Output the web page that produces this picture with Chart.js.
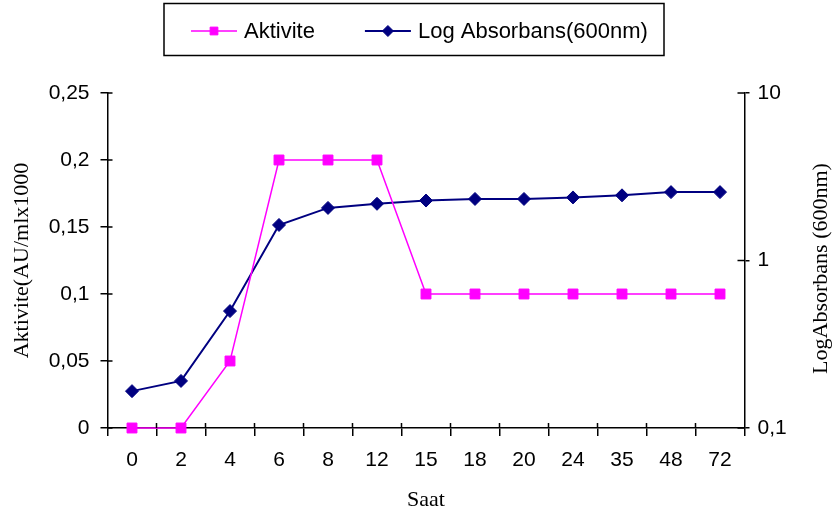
<!DOCTYPE html>
<html>
<head>
<meta charset="utf-8">
<script src="https://cdn.jsdelivr.net/npm/chart.js@4.4.1/dist/chart.umd.min.js"></script>
<style>
    html, body { margin: 0; padding: 0; background: #fff; }
    canvas { display: block; }
</style>
</head>
<body>
<canvas id="grafik" width="834" height="516"></canvas>
<script>
// Veriler
const saat = ['0', '2', '4', '6', '8', '12', '15', '18', '20', '24', '35', '48', '72'];
const aktivite = [0, 0, 0.05, 0.2, 0.2, 0.2, 0.1, 0.1, 0.1, 0.1, 0.1, 0.1, 0.1];
const logAbsorbans = [0.166, 0.191, 0.499, 1.63, 2.06, 2.18, 2.28, 2.33, 2.33, 2.38, 2.45, 2.56, 2.56];
const solEksenTikleri = [0, 0.05, 0.1, 0.15, 0.2, 0.25];
const sagEksenTikleri = [0.1, 1, 10];

const SANS = 'Arial, "Liberation Sans", sans-serif';
const SERIF = '"Times New Roman", "Liberation Serif", serif';

Chart.defaults.color = '#000';
Chart.defaults.font.family = SANS;

const virgullu = v => String(v).replace('.', ',');

// Lejant çerçevesi, sağ eksen başlığı ve içe taşan tik çizgileri
const ekCizimler = {
    id: 'ekCizimler',
    afterDraw(chart) {
        const ctx = chart.ctx;
        const alan = chart.chartArea;
        const { x, y, y1 } = chart.scales;
        ctx.save();

        // tiklerin iç kısmı
        ctx.strokeStyle = '#000';
        ctx.lineWidth = 1.5;
        ctx.beginPath();
        y.ticks.forEach(t => {
            const py = y.getPixelForValue(t.value);
            ctx.moveTo(alan.left, py);
            ctx.lineTo(alan.left + 5, py);
        });
        y1.ticks.forEach(t => {
            const py = y1.getPixelForValue(t.value);
            ctx.moveTo(alan.right, py);
            ctx.lineTo(alan.right - 7, py);
        });
        const adim = x.getPixelForValue(1) - x.getPixelForValue(0);
        for (let i = 1; i < saat.length; i++) {
            const px = x.getPixelForValue(i) - adim / 2;
            ctx.moveTo(px, alan.bottom);
            ctx.lineTo(px, alan.bottom - 5);
        }
        ctx.stroke();

        // sağ eksen başlığı (aşağıdan yukarı)
        ctx.save();
        ctx.translate(821, (alan.top + alan.bottom) / 2 + 8);
        ctx.rotate(-Math.PI / 2);
        ctx.font = '22px ' + SERIF;
        ctx.fillStyle = '#000';
        ctx.textAlign = 'center';
        ctx.textBaseline = 'middle';
        ctx.fillText('LogAbsorbans (600nm)', 0, 0);
        ctx.restore();

        // lejant
        ctx.lineWidth = 1.5;
        ctx.strokeStyle = '#000';
        ctx.strokeRect(164, 3.5, 500, 52);
        ctx.font = '22px ' + SANS;
        ctx.textBaseline = 'middle';
        ctx.textAlign = 'left';
        let lx = 191;
        const ly = 31;
        chart.data.datasets.forEach(ds => {
            ctx.strokeStyle = ds.borderColor;
            ctx.lineWidth = ds.borderWidth;
            ctx.beginPath();
            ctx.moveTo(lx, ly);
            ctx.lineTo(lx + 46, ly);
            ctx.stroke();
            ctx.fillStyle = ds.pointBackgroundColor;
            ctx.strokeStyle = ds.pointBorderColor;
            ctx.lineWidth = 1;
            Chart.helpers.drawPoint(ctx, { pointStyle: ds.pointStyle, radius: 5.5, rotation: 0, borderWidth: 1 }, lx + 23, ly);
            ctx.fillStyle = '#000';
            ctx.fillText(ds.label, lx + 53, ly + 1);
            lx += 53 + ctx.measureText(ds.label).width + 50;
        });
        ctx.restore();
    }
};

new Chart(document.getElementById('grafik'), {
    type: 'line',
    data: {
        labels: saat,
        datasets: [
            {
                label: 'Aktivite',
                data: aktivite,
                yAxisID: 'y',
                borderColor: '#ff00ff',
                borderWidth: 1.5,
                pointStyle: 'rect',
                pointRadius: 7,
                pointBackgroundColor: '#ff00ff',
                pointBorderColor: '#ff00ff',
                pointBorderWidth: 1,
                tension: 0,
                fill: false,
                clip: false
            },
            {
                label: 'Log Absorbans(600nm)',
                data: logAbsorbans,
                yAxisID: 'y1',
                borderColor: '#000080',
                borderWidth: 2,
                pointStyle: 'rectRot',
                pointRadius: 6.5,
                pointBackgroundColor: '#000080',
                pointBorderColor: '#000080',
                pointBorderWidth: 1,
                tension: 0,
                fill: false,
                clip: false
            }
        ]
    },
    options: {
        responsive: false,
        animation: false,
        devicePixelRatio: 1,
        layout: { padding: { top: 93, left: 0, right: 0, bottom: 0 } },
        plugins: {
            legend: { display: false },
            tooltip: { enabled: false }
        },
        scales: {
            x: {
                offset: true,
                afterFit: s => { s.height = 88; },
                grid: { offset: true, drawOnChartArea: false, drawTicks: true, tickLength: 8, color: '#000', lineWidth: 1.5 },
                border: { display: true, color: '#000', width: 1.5 },
                ticks: { font: { size: 21 }, padding: 12, maxRotation: 0, autoSkip: false },
                title: { display: true, text: 'Saat', font: { family: SERIF, size: 22 }, padding: { top: 0, bottom: 3 } }
            },
            y: {
                position: 'left',
                min: 0,
                max: 0.25,
                afterFit: s => { s.width = 107.5; },
                afterBuildTicks: s => { s.ticks = solEksenTikleri.map(v => ({ value: v })); },
                grid: { drawOnChartArea: false, drawTicks: true, tickLength: 7, color: '#000', lineWidth: 1.5 },
                border: { display: true, color: '#000', width: 1.5 },
                ticks: { font: { size: 21 }, padding: 11, callback: v => virgullu(v) },
                title: { display: true, text: 'Aktivite(AU/mlx1000', font: { family: SERIF, size: 22 }, padding: { top: 9, bottom: 0 } }
            },
            y1: {
                type: 'logarithmic',
                position: 'right',
                min: 0.1,
                max: 10,
                afterFit: s => { s.width = 89.5; },
                afterBuildTicks: s => { s.ticks = sagEksenTikleri.map(v => ({ value: v })); },
                grid: { drawOnChartArea: false, drawTicks: true, tickLength: 5, color: '#000', lineWidth: 1.5 },
                border: { display: true, color: '#000', width: 1.5 },
                ticks: { font: { size: 21 }, padding: 8, callback: v => virgullu(v) }
            }
        }
    },
    plugins: [ekCizimler]
});
</script>
</body>
</html>
